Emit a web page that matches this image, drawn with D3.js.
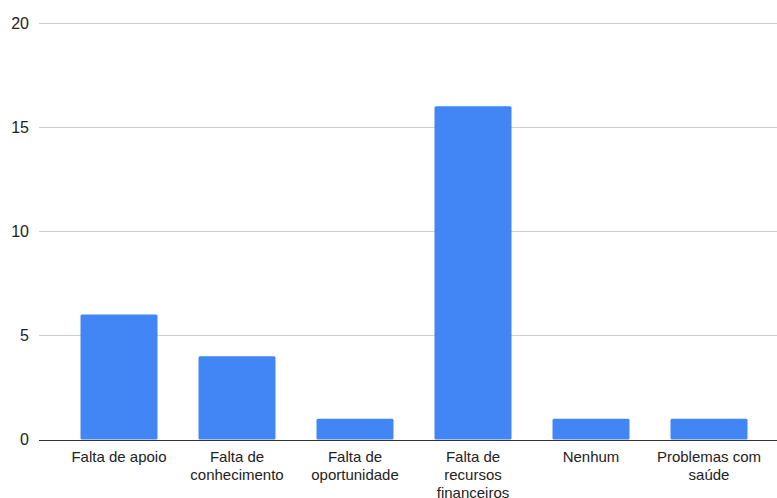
<!DOCTYPE html>
<html>
<head>
<meta charset="utf-8">
<script src="https://cdn.jsdelivr.net/npm/d3@7"></script>
<style>
  body { margin: 0; background: #fff; }
  text { font-family: "Liberation Sans", Arial, sans-serif; fill: #222; }
</style>
</head>
<body>
<div class="canvas"></div>
<script>
const categories = ['Falta de apoio', 'Falta de conhecimento', 'Falta de oportunidade',
  'Falta de recursos financeiros', 'Nenhum', 'Problemas com saúde'];
const values = [6, 4, 1, 16, 1, 1];
const yTicks = [0, 5, 10, 15, 20];

const dims = { width: 777, height: 498 };
const plot = { left: 39, right: 777, top: 23, bottom: 439.5 };

const svg = d3.select('.canvas')
  .append('svg')
  .attr('width', dims.width)
  .attr('height', dims.height);

const x = d3.scaleBand()
  .domain(categories)
  .range([60, 768])
  .paddingInner(41 / 118)
  .paddingOuter(41 / 236);

const y = d3.scaleLinear()
  .domain([0, 20])
  .range([plot.bottom, plot.top]);

// gridlines
svg.append('g')
  .selectAll('line')
  .data(yTicks.filter(d => d !== 0))
  .join('line')
  .attr('x1', plot.left)
  .attr('x2', plot.right)
  .attr('y1', d => Math.round(y(d)) + 0.5)
  .attr('y2', d => Math.round(y(d)) + 0.5)
  .attr('stroke', '#cccccc')
  .attr('stroke-width', 1);

// y labels
svg.append('g')
  .selectAll('text')
  .data(yTicks)
  .join('text')
  .attr('x', 29)
  .attr('y', d => y(d))
  .attr('dy', '0.35em')
  .attr('text-anchor', 'end')
  .style('font-size', '16px');

svg.selectAll('g text').text(d => d);

// bars
svg.append('g')
  .selectAll('rect')
  .data(values)
  .join('rect')
  .attr('x', (d, i) => x(categories[i]))
  .attr('y', d => y(d))
  .attr('width', x.bandwidth())
  .attr('height', d => y(0) - y(d))
  .attr('rx', 1.5)
  .attr('fill', '#4285f4');

// baseline
svg.append('line')
  .attr('x1', plot.left)
  .attr('x2', plot.right)
  .attr('y1', Math.round(y(0)) + 0.5)
  .attr('y2', Math.round(y(0)) + 0.5)
  .attr('stroke', '#333333')
  .attr('stroke-width', 1);

// category labels, wrapped to fit
const labels = svg.append('g')
  .selectAll('text')
  .data(categories)
  .join('text')
  .attr('x', d => x(d) + x.bandwidth() / 2)
  .attr('y', 462)
  .attr('text-anchor', 'middle')
  .style('font-size', '15px');

labels.each(function(d) {
  const el = d3.select(this);
  const words = d.split(' ');
  const cx = x(d) + x.bandwidth() / 2;
  let line = [];
  let tspan = el.append('tspan').attr('x', cx).attr('dy', 0);
  words.forEach(w => {
    line.push(w);
    tspan.text(line.join(' '));
    if (tspan.node().getComputedTextLength() > 112 && line.length > 1) {
      line.pop();
      tspan.text(line.join(' '));
      line = [w];
      tspan = el.append('tspan').attr('x', cx).attr('dy', 18).text(w);
    }
  });
});
</script>
</body>
</html>
